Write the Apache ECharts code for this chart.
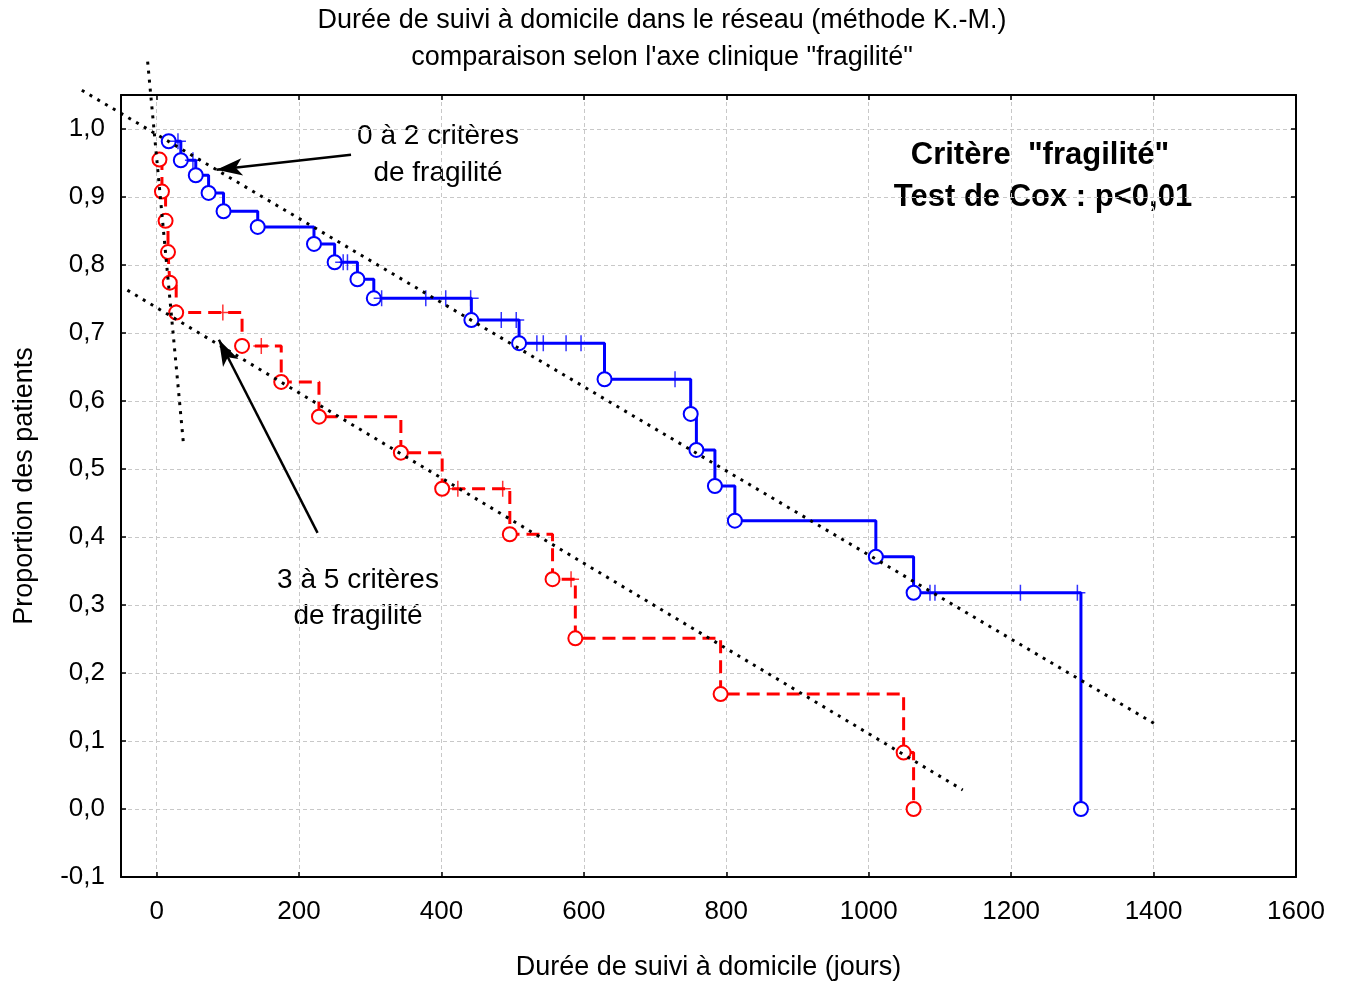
<!DOCTYPE html>
<html lang="fr">
<head>
<meta charset="utf-8">
<title>Durée de suivi à domicile (K.-M.)</title>
<script src="https://cdn.jsdelivr.net/npm/echarts@6/dist/echarts.min.js"></script>
<style>
  html, body { margin: 0; padding: 0; background: #fff; }
  #chart { width: 1346px; height: 982px; }
</style>
</head>
<body>
<div id="chart"></div>
<script>
// axes
const xTicks = [0, 200, 400, 600, 800, 1000, 1200, 1400, 1600];
const yTicks = [-0.1, 0, 0.1, 0.2, 0.3, 0.4, 0.5, 0.6, 0.7, 0.8, 0.9, 1.0];

// 0 à 2 critères : décès (temps, survie après la chute) et censures
const blueEventT = [17, 34, 55, 73, 94, 142, 221, 250, 282, 305, 442, 509, 629, 750, 758, 784, 812, 1010, 1063, 1298];
const blueEventS = [0.982, 0.954, 0.932, 0.906, 0.879, 0.856, 0.831, 0.804, 0.779, 0.751, 0.719, 0.685, 0.632, 0.581, 0.528, 0.475, 0.424, 0.371, 0.318, 0.0];
const blueCensT = [30, 51, 262, 268, 316, 378, 406, 441, 484, 505, 534, 543, 575, 596, 728, 1086, 1093, 1213, 1293];
const blueCensS = [0.982, 0.954, 0.804, 0.804, 0.751, 0.751, 0.751, 0.751, 0.719, 0.719, 0.685, 0.685, 0.685, 0.685, 0.632, 0.318, 0.318, 0.318, 0.318];

// 3 à 5 critères
const redEventT = [4, 7.5, 12.6, 16, 18.5, 27.5, 120, 175, 228, 343, 401, 496, 556, 588, 792, 1049, 1063];
const redEventS = [0.955, 0.908, 0.865, 0.819, 0.774, 0.730, 0.681, 0.628, 0.577, 0.524, 0.471, 0.404, 0.338, 0.251, 0.169, 0.083, 0.0];
const redCensT = [93, 147, 423, 486, 582];
const redCensS = [0.730, 0.681, 0.471, 0.471, 0.338];

// droites d'ajustement (pointillés) : [x0, y0, x1, y1]
const fitBlue = [-105, 1.057, 1402, 0.125];
const fitRed = [-41, 0.763, 1132, 0.028];
const fitSteep = [-12.6, 1.099, 38, 0.534];

// flèches des annotations
const arrowBlue = [[273, 0.962], [84, 0.940]];
const arrowRed = [[226, 0.406], [87.5, 0.690]];

const FONT = '"Liberation Sans", Arial, sans-serif';
const BLUE = '#0000ff';
const RED = '#ff0000';

const zip = (a, b) => a.map((v, i) => [v, b[i]]);
const fmt = v => v.toFixed(1).replace('.', ',');
const plus = 'path://M5,0L5,10M0,5L10,5';

const chart = echarts.init(document.getElementById('chart'));

const frameAxis = {
    axisLine: { show: true, onZero: false, lineStyle: { color: '#000', width: 2 } },
    axisTick: { show: true, inside: true, length: 5, lineStyle: { color: '#000', width: 1.5 } },
    axisLabel: { show: false },
    splitLine: { show: false }
};

const txt = (x, y, text, font) => ({
    type: 'text', x, y,
    style: { text, font: font + ' ' + FONT, fill: '#000', align: 'center', verticalAlign: 'middle' }
});

chart.setOption({
    backgroundColor: '#fff',
    animation: false,
    grid: { left: 121, right: 50, top: 95, bottom: 105, outerBoundsMode: 'none' },
    xAxis: [
        {
            type: 'value', min: -50, max: 1600,
            name: 'Durée de suivi à domicile (jours)', nameLocation: 'middle', nameGap: 77,
            nameTextStyle: { fontFamily: FONT, fontSize: 27, color: '#000' },
            axisLine: { onZero: false, lineStyle: { color: '#000', width: 2 } },
            axisTick: { inside: true, length: 5, customValues: xTicks, lineStyle: { color: '#000', width: 1.5 } },
            axisLabel: { customValues: xTicks, margin: 22, formatter: v => String(v), fontFamily: FONT, fontSize: 26, color: '#000' },
            splitLine: { show: true, lineStyle: { color: '#c8c8c8', type: [4, 3], width: 1 } }
        },
        Object.assign({ type: 'value', position: 'top', min: -50, max: 1600 }, frameAxis,
            { axisTick: Object.assign({}, frameAxis.axisTick, { customValues: xTicks }) })
    ],
    yAxis: [
        {
            type: 'value', min: -0.1, max: 1.05,
            name: 'Proportion des patients', nameLocation: 'middle', nameGap: 83,
            nameTextStyle: { fontFamily: FONT, fontSize: 27, color: '#000' },
            axisLine: { show: true, onZero: false, lineStyle: { color: '#000', width: 2 } },
            axisTick: { show: true, inside: true, length: 5, customValues: yTicks, lineStyle: { color: '#000', width: 1.5 } },
            axisLabel: { customValues: yTicks, margin: 16, formatter: fmt, fontFamily: FONT, fontSize: 26, color: '#000' },
            splitLine: { show: true, lineStyle: { color: '#c8c8c8', type: [4, 3], width: 1 } }
        },
        Object.assign({ type: 'value', position: 'right', min: -0.1, max: 1.05 }, frameAxis,
            { axisTick: Object.assign({}, frameAxis.axisTick, { customValues: yTicks }) })
    ],
    graphic: [
        txt(662, 21, 'Durée de suivi à domicile dans le réseau (méthode K.-M.)', '27px'),
        txt(662, 58, 'comparaison selon l\'axe clinique "fragilité"', '27px'),
        txt(1040, 155, 'Critère  "fragilité"', 'bold 31px'),
        txt(1043, 197, 'Test de Cox : p<0,01', 'bold 31px'),
        txt(438, 136, '0 à 2 critères', '28px'),
        txt(438, 173, 'de fragilité', '28px'),
        txt(358, 580, '3 à 5 critères', '28px'),
        txt(358, 616, 'de fragilité', '28px')
    ],
    series: [
        {
            name: '0 à 2 critères', type: 'line', step: 'end', data: zip(blueEventT, blueEventS),
            symbol: 'emptyCircle', symbolSize: 14, z: 3,
            lineStyle: { color: BLUE, width: 3 },
            itemStyle: { color: BLUE, borderColor: BLUE, borderWidth: 1.5 }
        },
        {
            name: '3 à 5 critères', type: 'line', step: 'end', data: zip(redEventT, redEventS),
            symbol: 'emptyCircle', symbolSize: 14, z: 3,
            lineStyle: { color: RED, width: 3, type: [13, 7] },
            itemStyle: { color: RED, borderColor: RED, borderWidth: 1.5 }
        },
        {
            name: 'censure 0-2', type: 'scatter', data: zip(blueCensT, blueCensS),
            symbol: plus, symbolSize: 16, z: 4,
            itemStyle: { color: 'transparent', borderColor: BLUE, borderWidth: 1.5 }
        },
        {
            name: 'censure 3-5', type: 'scatter', data: zip(redCensT, redCensS),
            symbol: plus, symbolSize: 16, z: 4,
            itemStyle: { color: 'transparent', borderColor: RED, borderWidth: 1.5 }
        },
        {
            // droites d'ajustement, non découpées par le cadre
            type: 'custom', clip: false, silent: true, z: 5,
            dimensions: ['x0', 'y0', 'x1', 'y1'],
            encode: { x: [0, 2], y: [1, 3] },
            data: [fitBlue, fitRed, fitSteep],
            renderItem: (params, api) => {
                const a = api.coord([api.value(0), api.value(1)]);
                const b = api.coord([api.value(2), api.value(3)]);
                return {
                    type: 'line',
                    shape: { x1: a[0], y1: a[1], x2: b[0], y2: b[1] },
                    style: { stroke: '#000', lineWidth: 3, lineDash: [3, 6] }
                };
            }
        },
        {
            type: 'line', data: [], silent: true, z: 6,
            markLine: {
                silent: true, symbol: ['none', 'arrow'], symbolSize: [13, 26],
                label: { show: false },
                lineStyle: { color: '#000', width: 2.5, type: 'solid' },
                data: [arrowBlue, arrowRed].map(a => [{ coord: a[0] }, { coord: a[1] }])
            }
        }
    ]
});
</script>
</body>
</html>
